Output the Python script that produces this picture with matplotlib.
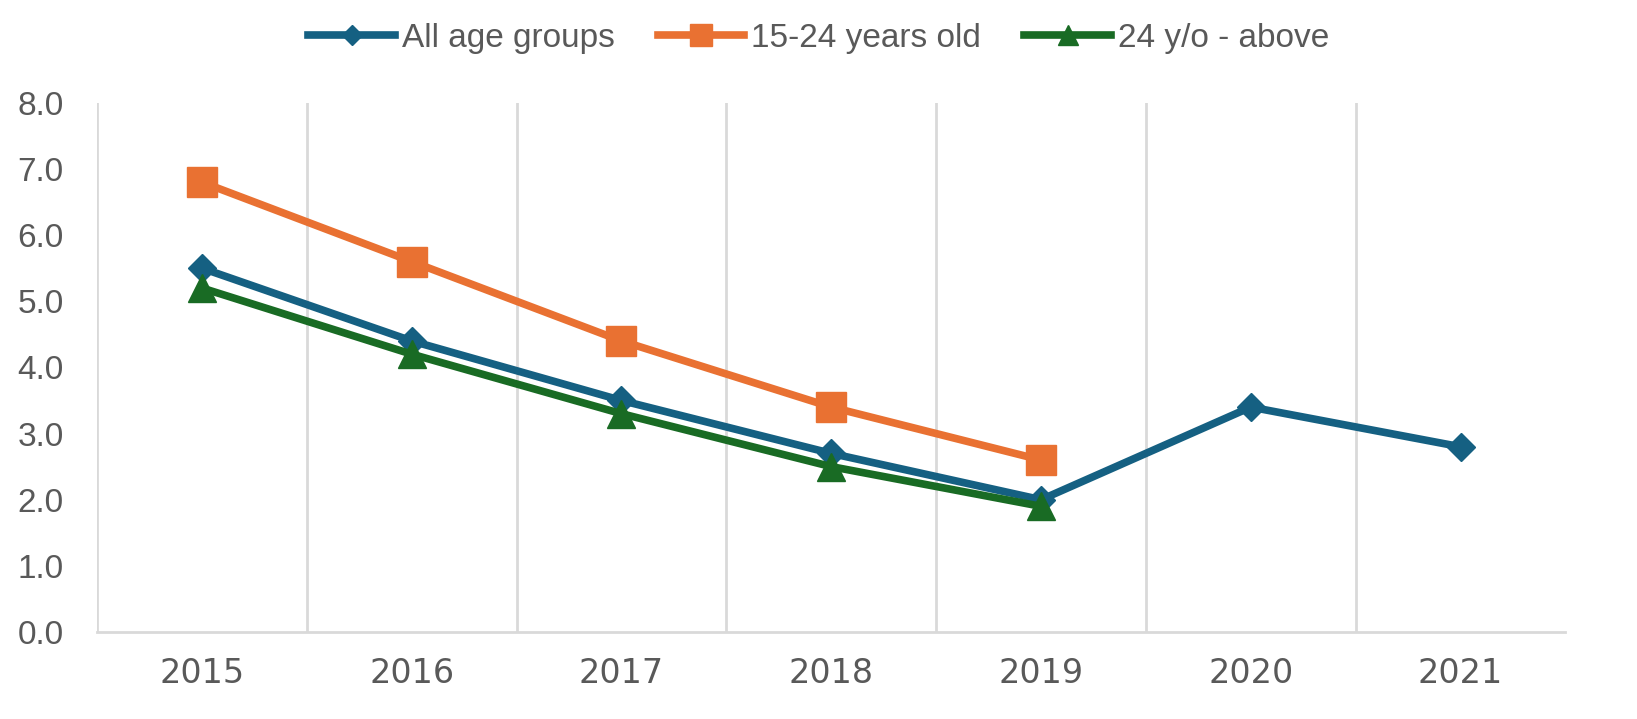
import matplotlib.pyplot as plt
import numpy as np

# data
years = ["2015", "2016", "2017", "2018", "2019", "2020", "2021"]
all_ages = [5.5, 4.4, 3.5, 2.7, 2.0, 3.4, 2.8]
youth = [6.8, 5.6, 4.4, 3.4, 2.6]
above_24 = [5.2, 4.2, 3.3, 2.5, 1.9]

plt.rcParams['font.family'] = ['Liberation Sans', 'DejaVu Sans']

fig = plt.figure(figsize=(16.37, 7.19), dpi=100)
ax = fig.add_axes([0.0593, 0.121, 0.897, 0.736])

x = np.arange(len(years))
ax.plot(x, all_ages, color="#156082", lw=5.5, marker="D", ms=14,
        label="All age groups", zorder=3)
ax.plot(x[:len(youth)], youth, color="#E97132", lw=5.5, marker="s", ms=21,
        label="15-24 years old", zorder=3)
ax.plot(x[:len(above_24)], above_24, color="#196B24", lw=5.5, marker="^", ms=20,
        label="24 y/o - above", zorder=4)

ax.set_xlim(-0.5, len(years) - 0.5)
ax.set_ylim(0, 8)
ax.set_yticks(np.arange(0, 9, 1))
ax.set_yticklabels(["%.1f" % v for v in np.arange(0, 9, 1)])
ax.set_xticks(x)
ax.set_xticklabels(years)

# vertical separators between categories
for b in np.arange(-0.5, len(years) - 0.5, 1):
    ax.axvline(b, color="#d9d9d9", lw=2, zorder=1)

for s in ["top", "right", "left"]:
    ax.spines[s].set_visible(False)
ax.spines["bottom"].set_color("#d9d9d9")
ax.spines["bottom"].set_linewidth(2)

ax.tick_params(axis="both", length=0, colors="#595959", labelsize=24)
ax.tick_params(axis="x", pad=18)
ax.tick_params(axis="y", pad=24)
for lab in ax.get_xticklabels():
    lab.set_family(['DejaVu Sans'])

leg = fig.legend(loc="upper center", bbox_to_anchor=(0.5, 1.01), ncol=3,
                 frameon=False, fontsize=24, handlelength=2.6,
                 columnspacing=1.3, handletextpad=0.2, markerscale=0.75)
for t in leg.get_texts():
    t.set_color("#595959")

fig.savefig("out.png", dpi=100)
